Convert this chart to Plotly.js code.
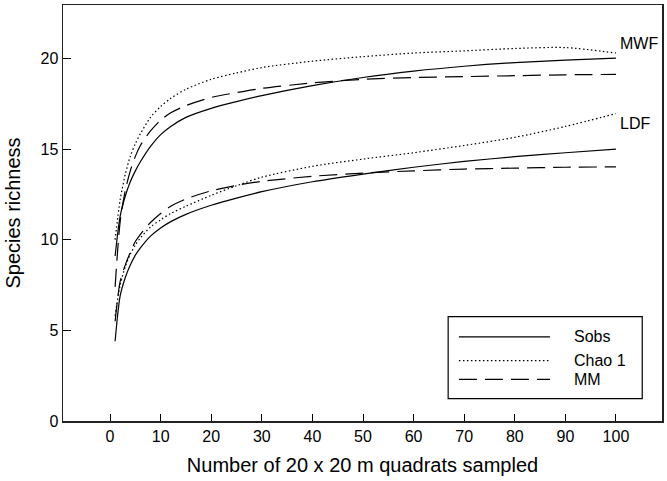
<!DOCTYPE html>
<html>
<head>
<meta charset="utf-8">
<script src="https://cdn.plot.ly/plotly-3.0.1.min.js"></script>
<style>
  html, body { margin: 0; padding: 0; background: #fff; }
  #graph { width: 667px; height: 481px; }
</style>
</head>
<body>
<div id="graph"></div>
<script>
// Data
const quadrats = [1, 2, 3, 4, 5, 6, 8, 10, 12, 15, 20, 25, 30, 40, 50, 60, 70, 80, 90, 100];

const mwfSobs = [9.1, 11.3, 12.4, 13.2, 13.8, 14.3, 15.15, 15.8, 16.25, 16.75, 17.25, 17.62, 17.95, 18.5, 18.95, 19.3, 19.57, 19.77, 19.91, 20.02];
const mwfChao = [10.0, 12.2, 13.6, 14.6, 15.3, 15.85, 16.75, 17.35, 17.8, 18.3, 18.85, 19.2, 19.5, 19.85, 20.1, 20.3, 20.42, 20.55, 20.6, 20.3];
const mwfMM = [7.4, 11.0, 12.7, 13.8, 14.6, 15.2, 16.0, 16.6, 17.0, 17.4, 17.85, 18.12, 18.35, 18.65, 18.85, 18.95, 19.0, 19.05, 19.1, 19.12];

const ldfSobs = [4.4, 6.9, 7.9, 8.6, 9.15, 9.55, 10.2, 10.65, 11.0, 11.4, 11.9, 12.3, 12.65, 13.2, 13.62, 14.0, 14.32, 14.58, 14.8, 15.0];
const ldfChao = [5.8, 7.5, 8.5, 9.2, 9.7, 10.1, 10.7, 11.1, 11.45, 11.85, 12.45, 12.98, 13.45, 14.05, 14.45, 14.8, 15.2, 15.65, 16.25, 16.96];
const ldfMM = [5.5, 7.7, 8.6, 9.3, 9.9, 10.3, 10.95, 11.45, 11.85, 12.25, 12.7, 13.0, 13.22, 13.5, 13.68, 13.8, 13.9, 13.95, 14.0, 14.02];

const estimators = ['Sobs', 'Chao 1', 'MM'];
const dashes = ['solid', '1.5px,2.5px', '18px,8px'];
const forestLabels = ['MWF', 'LDF'];

const font = 'Arial, "Liberation Sans", sans-serif';

function curve(y, k) {
    return {
        x: quadrats,
        y: y,
        mode: 'lines',
        type: 'scatter',
        name: estimators[k],
        showlegend: false,
        hoverinfo: 'skip',
        line: { color: '#000', width: 1.2, dash: dashes[k], shape: 'spline', smoothing: 0.8 }
    };
}

const traces = [
    curve(mwfSobs, 0), curve(mwfChao, 1), curve(mwfMM, 2),
    curve(ldfSobs, 0), curve(ldfChao, 1), curve(ldfMM, 2)
];

// hand-drawn legend box, like the original
const legendRows = [0.202, 0.145, 0.1];
const shapes = [{
    type: 'rect', xref: 'paper', yref: 'paper',
    x0: 0.643, x1: 0.967, y0: 0.054, y1: 0.251,
    line: { color: '#000', width: 1.2 }, fillcolor: '#fff'
}];
const annotations = [];
estimators.forEach((name, k) => {
    shapes.push({
        type: 'line', xref: 'paper', yref: 'paper',
        x0: 0.661, x1: 0.813, y0: legendRows[k], y1: legendRows[k],
        line: { color: '#000', width: 1.2, dash: dashes[k] }
    });
    annotations.push({
        xref: 'paper', yref: 'paper', x: 0.849, y: legendRows[k],
        xanchor: 'left', yanchor: 'middle', text: name, showarrow: false,
        font: { family: font, size: 16, color: '#000' }
    });
});

// forest labels next to curve ends
const labelY = [20.83, 16.4];
forestLabels.forEach((t, i) => {
    annotations.push({
        x: 100.5, y: labelY[i], xanchor: 'left', yanchor: 'middle',
        text: t, showarrow: false,
        font: { family: font, size: 16, color: '#000' }
    });
});

const layout = {
    width: 667,
    height: 481,
    margin: { l: 63, r: 5, t: 5, b: 60 },
    paper_bgcolor: '#fff',
    plot_bgcolor: '#fff',
    font: { family: font, size: 16, color: '#000' },
    showlegend: false,
    xaxis: {
        range: [-9.3, 109.1],
        tickvals: [0, 10, 20, 30, 40, 50, 60, 70, 80, 90, 100],
        ticks: 'inside', ticklen: 7, tickwidth: 1, tickcolor: '#000',
        showline: true, mirror: true, linecolor: '#222', linewidth: 1.5,
        showgrid: false, zeroline: false,
        tickfont: { family: font, size: 16 },
        title: { text: 'Number of 20 x 20 m quadrats sampled', font: { family: font, size: 20 }, standoff: 14 }
    },
    yaxis: {
        range: [0, 22.95],
        tickvals: [0, 5, 10, 15, 20],
        ticks: 'inside', ticklen: 8, tickwidth: 1, tickcolor: '#000',
        showline: true, mirror: true, linecolor: '#222', linewidth: 1.5,
        showgrid: false, zeroline: false,
        tickfont: { family: font, size: 16 },
        title: { text: 'Species richness', font: { family: font, size: 20 }, standoff: 14 }
    },
    shapes: shapes,
    annotations: annotations
};

Plotly.newPlot('graph', traces, layout, { staticPlot: true });
</script>
</body>
</html>
